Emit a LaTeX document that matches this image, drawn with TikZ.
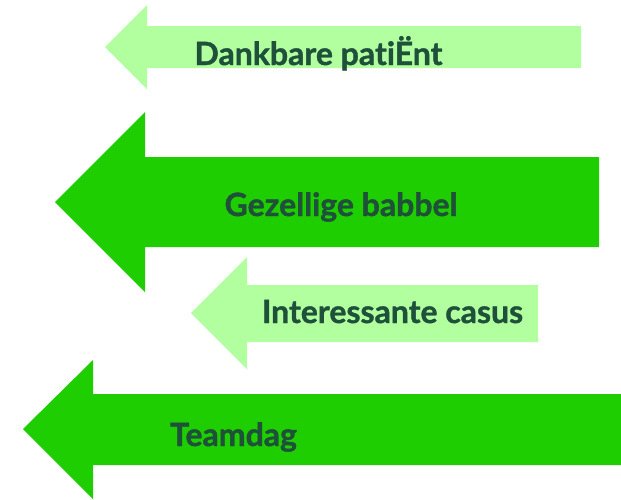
\documentclass[tikz,border=0pt]{standalone}
\usepackage{fontspec}
\setmainfont{Lato}[Ligatures={NoCommon},BoldFeatures={FakeBold=1.2}]
\definecolor{palegreen}{RGB}{178,255,160}
\definecolor{brightgreen}{RGB}{31,206,0}
\definecolor{labelgreen}{RGB}{30,80,58}
\begin{document}
\begin{tikzpicture}[x=1pt,y=-1pt,
  lbl/.style={anchor=base,inner sep=0pt,text=labelgreen,font=\fontsize{32}{36}\selectfont\bfseries},
  pale/.style={fill=palegreen,draw=none},
  bright/.style={fill=brightgreen,draw=none}]
\useasboundingbox (0,0) rectangle (621,499);
% left-pointing block arrows: tip, head top, body top, body right, body bottom, head bottom
\fill[pale]   (105,47)  -- (147,5)   -- (147,26)  -- (581,26)  -- (581,68)  -- (147,68)  -- (147,89)  -- cycle;
\fill[bright] (55,202)  -- (145,112) -- (145,157) -- (599,157) -- (599,247) -- (145,247) -- (145,292) -- cycle;
\fill[pale]   (191,313) -- (247,257) -- (247,285) -- (538,285) -- (538,342) -- (247,342) -- (247,369) -- cycle;
\fill[bright] (23,429)  -- (93,360)  -- (93,394)  -- (621,394) -- (621,465) -- (93,465)  -- (93,499)  -- cycle;
% labels
\node[lbl] (l1) at (318.5,65) {Dankbare patiËnt};
\node[lbl] (l2) at (341,216) {Gezellige babbel};
\node[lbl] (l3) at (392.5,323) {Interessante casus};
\node[lbl] (l4) at (233.5,446) {Teamdag};
\end{tikzpicture}
\end{document}
